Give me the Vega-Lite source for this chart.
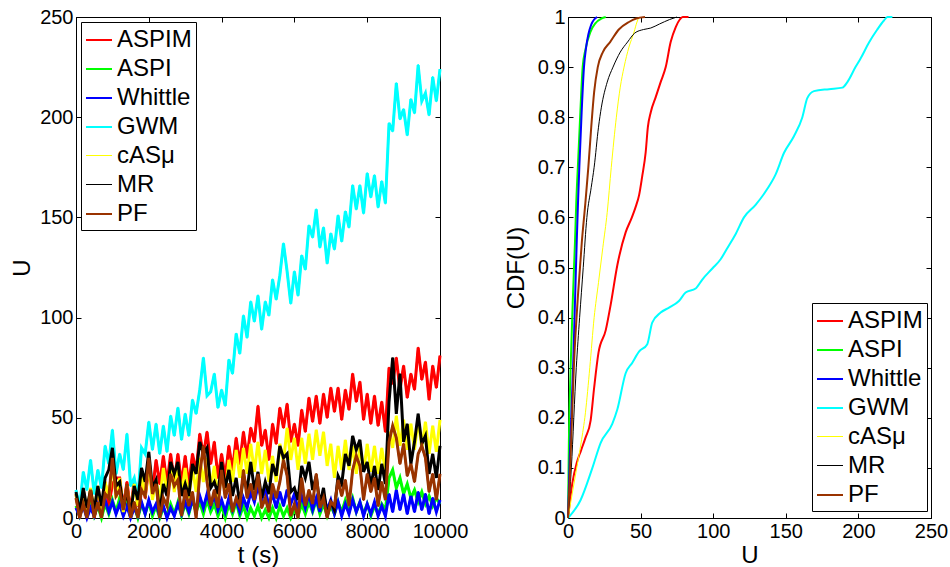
{
"$schema":"https://vega.github.io/schema/vega-lite/v6.json",
"padding":{"left":10,"top":6,"right":5,"bottom":5},
"bounds":"flush",
"spacing":128,
"config":{
 "font":"Liberation Sans",
 "view":{"stroke":"black","strokeWidth":1},
 "axis":{"grid":false,"domainColor":"black","tickColor":"black","labelColor":"black","titleColor":"black","labelFontSize":20,"titleFontSize":24,"titleFontWeight":"normal","tickSize":-5,"labelPadding":8,"labelFlush":false,"labelOverlap":false,"labelBound":false},
 "legend":{"orient":"none","strokeColor":"black","fillColor":"white","padding":4,"labelFontSize":24,"labelColor":"black","symbolSize":676,"symbolType":"stroke","rowPadding":3,"labelOffset":4,"cornerRadius":0,"labelLimit":300,"titleFontSize":0}
},
"resolve":{"scale":{"color":"independent","strokeWidth":"independent"},"legend":{"color":"independent","strokeWidth":"independent"}},
"datasets":{
"ts":[
{"s":"ASPIM","t":0,"u":12},{"s":"ASPIM","t":100,"u":0},{"s":"ASPIM","t":200,"u":14},{"s":"ASPIM","t":300,"u":1},{"s":"ASPIM","t":400,"u":14},{"s":"ASPIM","t":500,"u":0},{"s":"ASPIM","t":600,"u":13},{"s":"ASPIM","t":700,"u":1},{"s":"ASPIM","t":800,"u":18},{"s":"ASPIM","t":900,"u":6},
{"s":"ASPIM","t":1000,"u":17},{"s":"ASPIM","t":1100,"u":20},{"s":"ASPIM","t":1200,"u":20},{"s":"ASPIM","t":1300,"u":5},{"s":"ASPIM","t":1400,"u":18},{"s":"ASPIM","t":1500,"u":3},{"s":"ASPIM","t":1600,"u":19},{"s":"ASPIM","t":1700,"u":6},{"s":"ASPIM","t":1800,"u":22},{"s":"ASPIM","t":1900,"u":10},
{"s":"ASPIM","t":2000,"u":25},{"s":"ASPIM","t":2100,"u":13},{"s":"ASPIM","t":2200,"u":29},{"s":"ASPIM","t":2300,"u":17},{"s":"ASPIM","t":2400,"u":31},{"s":"ASPIM","t":2500,"u":17},{"s":"ASPIM","t":2600,"u":32},{"s":"ASPIM","t":2700,"u":18},{"s":"ASPIM","t":2800,"u":32},{"s":"ASPIM","t":2900,"u":17},
{"s":"ASPIM","t":3000,"u":31},{"s":"ASPIM","t":3100,"u":16},{"s":"ASPIM","t":3200,"u":32},{"s":"ASPIM","t":3300,"u":23},{"s":"ASPIM","t":3400,"u":42},{"s":"ASPIM","t":3500,"u":31},{"s":"ASPIM","t":3600,"u":43},{"s":"ASPIM","t":3700,"u":27},{"s":"ASPIM","t":3800,"u":38},{"s":"ASPIM","t":3900,"u":20},
{"s":"ASPIM","t":4000,"u":32},{"s":"ASPIM","t":4100,"u":20},{"s":"ASPIM","t":4200,"u":36},{"s":"ASPIM","t":4300,"u":24},{"s":"ASPIM","t":4400,"u":40},{"s":"ASPIM","t":4500,"u":27},{"s":"ASPIM","t":4600,"u":43},{"s":"ASPIM","t":4700,"u":30},{"s":"ASPIM","t":4800,"u":45},{"s":"ASPIM","t":4900,"u":38},
{"s":"ASPIM","t":5000,"u":56},{"s":"ASPIM","t":5100,"u":36},{"s":"ASPIM","t":5200,"u":44},{"s":"ASPIM","t":5300,"u":29},{"s":"ASPIM","t":5400,"u":47},{"s":"ASPIM","t":5500,"u":37},{"s":"ASPIM","t":5600,"u":55},{"s":"ASPIM","t":5700,"u":45},{"s":"ASPIM","t":5800,"u":57},{"s":"ASPIM","t":5900,"u":38},
{"s":"ASPIM","t":6000,"u":47},{"s":"ASPIM","t":6100,"u":36},{"s":"ASPIM","t":6200,"u":54},{"s":"ASPIM","t":6300,"u":43},{"s":"ASPIM","t":6400,"u":60},{"s":"ASPIM","t":6500,"u":48},{"s":"ASPIM","t":6600,"u":61},{"s":"ASPIM","t":6700,"u":47},{"s":"ASPIM","t":6800,"u":62},{"s":"ASPIM","t":6900,"u":50},
{"s":"ASPIM","t":7000,"u":65},{"s":"ASPIM","t":7100,"u":53},{"s":"ASPIM","t":7200,"u":65},{"s":"ASPIM","t":7300,"u":49},{"s":"ASPIM","t":7400,"u":64},{"s":"ASPIM","t":7500,"u":54},{"s":"ASPIM","t":7600,"u":72},{"s":"ASPIM","t":7700,"u":58},{"s":"ASPIM","t":7800,"u":68},{"s":"ASPIM","t":7900,"u":49},
{"s":"ASPIM","t":8000,"u":62},{"s":"ASPIM","t":8100,"u":47},{"s":"ASPIM","t":8200,"u":61},{"s":"ASPIM","t":8300,"u":46},{"s":"ASPIM","t":8400,"u":58},{"s":"ASPIM","t":8500,"u":43},{"s":"ASPIM","t":8600,"u":75},{"s":"ASPIM","t":8700,"u":67},{"s":"ASPIM","t":8800,"u":80},{"s":"ASPIM","t":8900,"u":64},
{"s":"ASPIM","t":9000,"u":76},{"s":"ASPIM","t":9100,"u":60},{"s":"ASPIM","t":9200,"u":72},{"s":"ASPIM","t":9300,"u":64},{"s":"ASPIM","t":9400,"u":85},{"s":"ASPIM","t":9500,"u":69},{"s":"ASPIM","t":9600,"u":78},{"s":"ASPIM","t":9700,"u":59},{"s":"ASPIM","t":9800,"u":76},{"s":"ASPIM","t":9900,"u":65},{"s":"ASPIM","t":10000,"u":81},
{"s":"ASPI","t":0,"u":6},{"s":"ASPI","t":100,"u":1},{"s":"ASPI","t":200,"u":7},{"s":"ASPI","t":300,"u":2},{"s":"ASPI","t":400,"u":8},{"s":"ASPI","t":500,"u":1},{"s":"ASPI","t":600,"u":6},{"s":"ASPI","t":700,"u":0},{"s":"ASPI","t":800,"u":7},{"s":"ASPI","t":900,"u":2},
{"s":"ASPI","t":1000,"u":9},{"s":"ASPI","t":1100,"u":3},{"s":"ASPI","t":1200,"u":10},{"s":"ASPI","t":1300,"u":4},{"s":"ASPI","t":1400,"u":8},{"s":"ASPI","t":1500,"u":1},{"s":"ASPI","t":1600,"u":6},{"s":"ASPI","t":1700,"u":0},{"s":"ASPI","t":1800,"u":7},{"s":"ASPI","t":1900,"u":2},
{"s":"ASPI","t":2000,"u":8},{"s":"ASPI","t":2100,"u":1},{"s":"ASPI","t":2200,"u":6},{"s":"ASPI","t":2300,"u":0},{"s":"ASPI","t":2400,"u":5},{"s":"ASPI","t":2500,"u":1},{"s":"ASPI","t":2600,"u":7},{"s":"ASPI","t":2700,"u":2},{"s":"ASPI","t":2800,"u":8},{"s":"ASPI","t":2900,"u":1},
{"s":"ASPI","t":3000,"u":7},{"s":"ASPI","t":3100,"u":2},{"s":"ASPI","t":3200,"u":9},{"s":"ASPI","t":3300,"u":3},{"s":"ASPI","t":3400,"u":8},{"s":"ASPI","t":3500,"u":2},{"s":"ASPI","t":3600,"u":9},{"s":"ASPI","t":3700,"u":3},{"s":"ASPI","t":3800,"u":7},{"s":"ASPI","t":3900,"u":1},
{"s":"ASPI","t":4000,"u":6},{"s":"ASPI","t":4100,"u":0},{"s":"ASPI","t":4200,"u":7},{"s":"ASPI","t":4300,"u":2},{"s":"ASPI","t":4400,"u":8},{"s":"ASPI","t":4500,"u":1},{"s":"ASPI","t":4600,"u":6},{"s":"ASPI","t":4700,"u":0},{"s":"ASPI","t":4800,"u":5},{"s":"ASPI","t":4900,"u":1},
{"s":"ASPI","t":5000,"u":6},{"s":"ASPI","t":5100,"u":0},{"s":"ASPI","t":5200,"u":4},{"s":"ASPI","t":5300,"u":0},{"s":"ASPI","t":5400,"u":5},{"s":"ASPI","t":5500,"u":0},{"s":"ASPI","t":5600,"u":6},{"s":"ASPI","t":5700,"u":1},{"s":"ASPI","t":5800,"u":5},{"s":"ASPI","t":5900,"u":0},
{"s":"ASPI","t":6000,"u":4},{"s":"ASPI","t":6100,"u":1},{"s":"ASPI","t":6200,"u":7},{"s":"ASPI","t":6300,"u":2},{"s":"ASPI","t":6400,"u":8},{"s":"ASPI","t":6500,"u":3},{"s":"ASPI","t":6600,"u":9},{"s":"ASPI","t":6700,"u":2},{"s":"ASPI","t":6800,"u":7},{"s":"ASPI","t":6900,"u":1},
{"s":"ASPI","t":7000,"u":6},{"s":"ASPI","t":7100,"u":2},{"s":"ASPI","t":7200,"u":8},{"s":"ASPI","t":7300,"u":3},{"s":"ASPI","t":7400,"u":9},{"s":"ASPI","t":7500,"u":4},{"s":"ASPI","t":7600,"u":10},{"s":"ASPI","t":7700,"u":3},{"s":"ASPI","t":7800,"u":8},{"s":"ASPI","t":7900,"u":2},
{"s":"ASPI","t":8000,"u":7},{"s":"ASPI","t":8100,"u":1},{"s":"ASPI","t":8200,"u":6},{"s":"ASPI","t":8300,"u":2},{"s":"ASPI","t":8400,"u":7},{"s":"ASPI","t":8500,"u":4},{"s":"ASPI","t":8600,"u":20},{"s":"ASPI","t":8700,"u":24},{"s":"ASPI","t":8800,"u":15},{"s":"ASPI","t":8900,"u":20},
{"s":"ASPI","t":9000,"u":12},{"s":"ASPI","t":9100,"u":17},{"s":"ASPI","t":9200,"u":10},{"s":"ASPI","t":9300,"u":14},{"s":"ASPI","t":9400,"u":8},{"s":"ASPI","t":9500,"u":13},{"s":"ASPI","t":9600,"u":7},{"s":"ASPI","t":9700,"u":11},{"s":"ASPI","t":9800,"u":6},{"s":"ASPI","t":9900,"u":10},{"s":"ASPI","t":10000,"u":7},
{"s":"Whittle","t":0,"u":5},{"s":"Whittle","t":100,"u":1},{"s":"Whittle","t":200,"u":6},{"s":"Whittle","t":300,"u":0},{"s":"Whittle","t":400,"u":5},{"s":"Whittle","t":500,"u":1},{"s":"Whittle","t":600,"u":7},{"s":"Whittle","t":700,"u":2},{"s":"Whittle","t":800,"u":9},{"s":"Whittle","t":900,"u":3},
{"s":"Whittle","t":1000,"u":8},{"s":"Whittle","t":1100,"u":2},{"s":"Whittle","t":1200,"u":7},{"s":"Whittle","t":1300,"u":1},{"s":"Whittle","t":1400,"u":6},{"s":"Whittle","t":1500,"u":0},{"s":"Whittle","t":1600,"u":5},{"s":"Whittle","t":1700,"u":1},{"s":"Whittle","t":1800,"u":8},{"s":"Whittle","t":1900,"u":2},
{"s":"Whittle","t":2000,"u":9},{"s":"Whittle","t":2100,"u":3},{"s":"Whittle","t":2200,"u":7},{"s":"Whittle","t":2300,"u":1},{"s":"Whittle","t":2400,"u":6},{"s":"Whittle","t":2500,"u":0},{"s":"Whittle","t":2600,"u":5},{"s":"Whittle","t":2700,"u":1},{"s":"Whittle","t":2800,"u":7},{"s":"Whittle","t":2900,"u":2},
{"s":"Whittle","t":3000,"u":8},{"s":"Whittle","t":3100,"u":3},{"s":"Whittle","t":3200,"u":9},{"s":"Whittle","t":3300,"u":4},{"s":"Whittle","t":3400,"u":11},{"s":"Whittle","t":3500,"u":5},{"s":"Whittle","t":3600,"u":12},{"s":"Whittle","t":3700,"u":6},{"s":"Whittle","t":3800,"u":11},{"s":"Whittle","t":3900,"u":4},
{"s":"Whittle","t":4000,"u":9},{"s":"Whittle","t":4100,"u":3},{"s":"Whittle","t":4200,"u":10},{"s":"Whittle","t":4300,"u":4},{"s":"Whittle","t":4400,"u":9},{"s":"Whittle","t":4500,"u":3},{"s":"Whittle","t":4600,"u":10},{"s":"Whittle","t":4700,"u":5},{"s":"Whittle","t":4800,"u":13},{"s":"Whittle","t":4900,"u":8},
{"s":"Whittle","t":5000,"u":16},{"s":"Whittle","t":5100,"u":9},{"s":"Whittle","t":5200,"u":14},{"s":"Whittle","t":5300,"u":6},{"s":"Whittle","t":5400,"u":12},{"s":"Whittle","t":5500,"u":5},{"s":"Whittle","t":5600,"u":13},{"s":"Whittle","t":5700,"u":6},{"s":"Whittle","t":5800,"u":14},{"s":"Whittle","t":5900,"u":7},
{"s":"Whittle","t":6000,"u":12},{"s":"Whittle","t":6100,"u":4},{"s":"Whittle","t":6200,"u":11},{"s":"Whittle","t":6300,"u":5},{"s":"Whittle","t":6400,"u":12},{"s":"Whittle","t":6500,"u":4},{"s":"Whittle","t":6600,"u":10},{"s":"Whittle","t":6700,"u":3},{"s":"Whittle","t":6800,"u":12},{"s":"Whittle","t":6900,"u":4},
{"s":"Whittle","t":7000,"u":9},{"s":"Whittle","t":7100,"u":2},{"s":"Whittle","t":7200,"u":8},{"s":"Whittle","t":7300,"u":1},{"s":"Whittle","t":7400,"u":7},{"s":"Whittle","t":7500,"u":2},{"s":"Whittle","t":7600,"u":9},{"s":"Whittle","t":7700,"u":3},{"s":"Whittle","t":7800,"u":8},{"s":"Whittle","t":7900,"u":1},
{"s":"Whittle","t":8000,"u":7},{"s":"Whittle","t":8100,"u":2},{"s":"Whittle","t":8200,"u":8},{"s":"Whittle","t":8300,"u":1},{"s":"Whittle","t":8400,"u":6},{"s":"Whittle","t":8500,"u":1},{"s":"Whittle","t":8600,"u":12},{"s":"Whittle","t":8700,"u":3},{"s":"Whittle","t":8800,"u":14},{"s":"Whittle","t":8900,"u":4},
{"s":"Whittle","t":9000,"u":12},{"s":"Whittle","t":9100,"u":2},{"s":"Whittle","t":9200,"u":11},{"s":"Whittle","t":9300,"u":3},{"s":"Whittle","t":9400,"u":13},{"s":"Whittle","t":9500,"u":4},{"s":"Whittle","t":9600,"u":12},{"s":"Whittle","t":9700,"u":2},{"s":"Whittle","t":9800,"u":10},{"s":"Whittle","t":9900,"u":3},{"s":"Whittle","t":10000,"u":9},
{"s":"GWM","t":0,"u":14},{"s":"GWM","t":100,"u":5},{"s":"GWM","t":200,"u":23},{"s":"GWM","t":300,"u":14},{"s":"GWM","t":400,"u":29},{"s":"GWM","t":500,"u":12},{"s":"GWM","t":600,"u":24},{"s":"GWM","t":700,"u":15},{"s":"GWM","t":800,"u":36},{"s":"GWM","t":900,"u":27},
{"s":"GWM","t":1000,"u":44},{"s":"GWM","t":1100,"u":22},{"s":"GWM","t":1200,"u":32},{"s":"GWM","t":1300,"u":24},{"s":"GWM","t":1400,"u":42},{"s":"GWM","t":1500,"u":16},{"s":"GWM","t":1600,"u":20},{"s":"GWM","t":1700,"u":10},{"s":"GWM","t":1800,"u":35},{"s":"GWM","t":1900,"u":32},
{"s":"GWM","t":2000,"u":48},{"s":"GWM","t":2100,"u":34},{"s":"GWM","t":2200,"u":47},{"s":"GWM","t":2300,"u":32},{"s":"GWM","t":2400,"u":46},{"s":"GWM","t":2500,"u":33},{"s":"GWM","t":2600,"u":51},{"s":"GWM","t":2700,"u":41},{"s":"GWM","t":2800,"u":55},{"s":"GWM","t":2900,"u":39},
{"s":"GWM","t":3000,"u":52},{"s":"GWM","t":3100,"u":41},{"s":"GWM","t":3200,"u":59},{"s":"GWM","t":3300,"u":52},{"s":"GWM","t":3400,"u":64},{"s":"GWM","t":3500,"u":80},{"s":"GWM","t":3600,"u":61},{"s":"GWM","t":3700,"u":63},{"s":"GWM","t":3800,"u":72},{"s":"GWM","t":3900,"u":55},
{"s":"GWM","t":4000,"u":64},{"s":"GWM","t":4100,"u":56},{"s":"GWM","t":4200,"u":79},{"s":"GWM","t":4300,"u":72},{"s":"GWM","t":4400,"u":92},{"s":"GWM","t":4500,"u":82},{"s":"GWM","t":4600,"u":101},{"s":"GWM","t":4700,"u":90},{"s":"GWM","t":4800,"u":108},{"s":"GWM","t":4900,"u":98},
{"s":"GWM","t":5000,"u":111},{"s":"GWM","t":5100,"u":94},{"s":"GWM","t":5200,"u":108},{"s":"GWM","t":5300,"u":101},{"s":"GWM","t":5400,"u":119},{"s":"GWM","t":5500,"u":109},{"s":"GWM","t":5600,"u":121},{"s":"GWM","t":5700,"u":137},{"s":"GWM","t":5800,"u":123},{"s":"GWM","t":5900,"u":107},
{"s":"GWM","t":6000,"u":123},{"s":"GWM","t":6100,"u":111},{"s":"GWM","t":6200,"u":131},{"s":"GWM","t":6300,"u":124},{"s":"GWM","t":6400,"u":146},{"s":"GWM","t":6500,"u":140},{"s":"GWM","t":6600,"u":154},{"s":"GWM","t":6700,"u":135},{"s":"GWM","t":6800,"u":145},{"s":"GWM","t":6900,"u":127},
{"s":"GWM","t":7000,"u":142},{"s":"GWM","t":7100,"u":134},{"s":"GWM","t":7200,"u":151},{"s":"GWM","t":7300,"u":138},{"s":"GWM","t":7400,"u":153},{"s":"GWM","t":7500,"u":145},{"s":"GWM","t":7600,"u":166},{"s":"GWM","t":7700,"u":154},{"s":"GWM","t":7800,"u":166},{"s":"GWM","t":7900,"u":152},
{"s":"GWM","t":8000,"u":172},{"s":"GWM","t":8100,"u":160},{"s":"GWM","t":8200,"u":171},{"s":"GWM","t":8300,"u":155},{"s":"GWM","t":8400,"u":168},{"s":"GWM","t":8500,"u":157},{"s":"GWM","t":8600,"u":197},{"s":"GWM","t":8700,"u":193},{"s":"GWM","t":8800,"u":217},{"s":"GWM","t":8900,"u":199},
{"s":"GWM","t":9000,"u":204},{"s":"GWM","t":9100,"u":191},{"s":"GWM","t":9200,"u":209},{"s":"GWM","t":9300,"u":202},{"s":"GWM","t":9400,"u":226},{"s":"GWM","t":9500,"u":208},{"s":"GWM","t":9600,"u":212},{"s":"GWM","t":9700,"u":201},{"s":"GWM","t":9800,"u":220},{"s":"GWM","t":9900,"u":208},{"s":"GWM","t":10000,"u":224},
{"s":"cASμ","t":0,"u":12},{"s":"cASμ","t":100,"u":1},{"s":"cASμ","t":200,"u":14},{"s":"cASμ","t":300,"u":2},{"s":"cASμ","t":400,"u":15},{"s":"cASμ","t":500,"u":3},{"s":"cASμ","t":600,"u":16},{"s":"cASμ","t":700,"u":4},{"s":"cASμ","t":800,"u":18},{"s":"cASμ","t":900,"u":10},
{"s":"cASμ","t":1000,"u":27},{"s":"cASμ","t":1100,"u":10},{"s":"cASμ","t":1200,"u":20},{"s":"cASμ","t":1300,"u":3},{"s":"cASμ","t":1400,"u":16},{"s":"cASμ","t":1500,"u":1},{"s":"cASμ","t":1600,"u":17},{"s":"cASμ","t":1700,"u":6},{"s":"cASμ","t":1800,"u":22},{"s":"cASμ","t":1900,"u":11},
{"s":"cASμ","t":2000,"u":27},{"s":"cASμ","t":2100,"u":9},{"s":"cASμ","t":2200,"u":19},{"s":"cASμ","t":2300,"u":8},{"s":"cASμ","t":2400,"u":25},{"s":"cASμ","t":2500,"u":12},{"s":"cASμ","t":2600,"u":26},{"s":"cASμ","t":2700,"u":13},{"s":"cASμ","t":2800,"u":26},{"s":"cASμ","t":2900,"u":12},
{"s":"cASμ","t":3000,"u":25},{"s":"cASμ","t":3100,"u":10},{"s":"cASμ","t":3200,"u":25},{"s":"cASμ","t":3300,"u":13},{"s":"cASμ","t":3400,"u":30},{"s":"cASμ","t":3500,"u":18},{"s":"cASμ","t":3600,"u":30},{"s":"cASμ","t":3700,"u":15},{"s":"cASμ","t":3800,"u":26},{"s":"cASμ","t":3900,"u":10},
{"s":"cASμ","t":4000,"u":23},{"s":"cASμ","t":4100,"u":12},{"s":"cASμ","t":4200,"u":29},{"s":"cASμ","t":4300,"u":18},{"s":"cASμ","t":4400,"u":34},{"s":"cASμ","t":4500,"u":20},{"s":"cASμ","t":4600,"u":35},{"s":"cASμ","t":4700,"u":22},{"s":"cASμ","t":4800,"u":37},{"s":"cASμ","t":4900,"u":23},
{"s":"cASμ","t":5000,"u":38},{"s":"cASμ","t":5100,"u":22},{"s":"cASμ","t":5200,"u":34},{"s":"cASμ","t":5300,"u":18},{"s":"cASμ","t":5400,"u":31},{"s":"cASμ","t":5500,"u":18},{"s":"cASμ","t":5600,"u":37},{"s":"cASμ","t":5700,"u":28},{"s":"cASμ","t":5800,"u":45},{"s":"cASμ","t":5900,"u":29},
{"s":"cASμ","t":6000,"u":40},{"s":"cASμ","t":6100,"u":24},{"s":"cASμ","t":6200,"u":40},{"s":"cASμ","t":6300,"u":27},{"s":"cASμ","t":6400,"u":42},{"s":"cASμ","t":6500,"u":29},{"s":"cASμ","t":6600,"u":44},{"s":"cASμ","t":6700,"u":31},{"s":"cASμ","t":6800,"u":43},{"s":"cASμ","t":6900,"u":26},
{"s":"cASμ","t":7000,"u":37},{"s":"cASμ","t":7100,"u":20},{"s":"cASμ","t":7200,"u":36},{"s":"cASμ","t":7300,"u":24},{"s":"cASμ","t":7400,"u":39},{"s":"cASμ","t":7500,"u":24},{"s":"cASμ","t":7600,"u":36},{"s":"cASμ","t":7700,"u":22},{"s":"cASμ","t":7800,"u":36},{"s":"cASμ","t":7900,"u":23},
{"s":"cASμ","t":8000,"u":37},{"s":"cASμ","t":8100,"u":23},{"s":"cASμ","t":8200,"u":36},{"s":"cASμ","t":8300,"u":22},{"s":"cASμ","t":8400,"u":35},{"s":"cASμ","t":8500,"u":23},{"s":"cASμ","t":8600,"u":43},{"s":"cASμ","t":8700,"u":35},{"s":"cASμ","t":8800,"u":51},{"s":"cASμ","t":8900,"u":36},
{"s":"cASμ","t":9000,"u":49},{"s":"cASμ","t":9100,"u":34},{"s":"cASμ","t":9200,"u":47},{"s":"cASμ","t":9300,"u":34},{"s":"cASμ","t":9400,"u":49},{"s":"cASμ","t":9500,"u":35},{"s":"cASμ","t":9600,"u":48},{"s":"cASμ","t":9700,"u":32},{"s":"cASμ","t":9800,"u":46},{"s":"cASμ","t":9900,"u":33},{"s":"cASμ","t":10000,"u":49},
{"s":"MR","t":0,"u":13},{"s":"MR","t":100,"u":3},{"s":"MR","t":200,"u":15},{"s":"MR","t":300,"u":5},{"s":"MR","t":400,"u":14},{"s":"MR","t":500,"u":4},{"s":"MR","t":600,"u":16},{"s":"MR","t":700,"u":6},{"s":"MR","t":800,"u":20},{"s":"MR","t":900,"u":24},
{"s":"MR","t":1000,"u":35},{"s":"MR","t":1100,"u":16},{"s":"MR","t":1200,"u":18},{"s":"MR","t":1300,"u":5},{"s":"MR","t":1400,"u":13},{"s":"MR","t":1500,"u":2},{"s":"MR","t":1600,"u":16},{"s":"MR","t":1700,"u":9},{"s":"MR","t":1800,"u":25},{"s":"MR","t":1900,"u":18},
{"s":"MR","t":2000,"u":33},{"s":"MR","t":2100,"u":15},{"s":"MR","t":2200,"u":19},{"s":"MR","t":2300,"u":2},{"s":"MR","t":2400,"u":17},{"s":"MR","t":2500,"u":11},{"s":"MR","t":2600,"u":28},{"s":"MR","t":2700,"u":22},{"s":"MR","t":2800,"u":28},{"s":"MR","t":2900,"u":11},
{"s":"MR","t":3000,"u":17},{"s":"MR","t":3100,"u":11},{"s":"MR","t":3200,"u":27},{"s":"MR","t":3300,"u":22},{"s":"MR","t":3400,"u":38},{"s":"MR","t":3500,"u":32},{"s":"MR","t":3600,"u":35},{"s":"MR","t":3700,"u":15},{"s":"MR","t":3800,"u":18},{"s":"MR","t":3900,"u":12},
{"s":"MR","t":4000,"u":28},{"s":"MR","t":4100,"u":15},{"s":"MR","t":4200,"u":24},{"s":"MR","t":4300,"u":11},{"s":"MR","t":4400,"u":20},{"s":"MR","t":4500,"u":7},{"s":"MR","t":4600,"u":21},{"s":"MR","t":4700,"u":14},{"s":"MR","t":4800,"u":28},{"s":"MR","t":4900,"u":14},
{"s":"MR","t":5000,"u":23},{"s":"MR","t":5100,"u":10},{"s":"MR","t":5200,"u":18},{"s":"MR","t":5300,"u":12},{"s":"MR","t":5400,"u":27},{"s":"MR","t":5500,"u":21},{"s":"MR","t":5600,"u":36},{"s":"MR","t":5700,"u":30},{"s":"MR","t":5800,"u":32},{"s":"MR","t":5900,"u":13},
{"s":"MR","t":6000,"u":15},{"s":"MR","t":6100,"u":9},{"s":"MR","t":6200,"u":26},{"s":"MR","t":6300,"u":20},{"s":"MR","t":6400,"u":28},{"s":"MR","t":6500,"u":14},{"s":"MR","t":6600,"u":21},{"s":"MR","t":6700,"u":7},{"s":"MR","t":6800,"u":15},{"s":"MR","t":6900,"u":1},
{"s":"MR","t":7000,"u":8},{"s":"MR","t":7100,"u":4},{"s":"MR","t":7200,"u":21},{"s":"MR","t":7300,"u":17},{"s":"MR","t":7400,"u":32},{"s":"MR","t":7500,"u":26},{"s":"MR","t":7600,"u":41},{"s":"MR","t":7700,"u":34},{"s":"MR","t":7800,"u":39},{"s":"MR","t":7900,"u":23},
{"s":"MR","t":8000,"u":28},{"s":"MR","t":8100,"u":16},{"s":"MR","t":8200,"u":26},{"s":"MR","t":8300,"u":14},{"s":"MR","t":8400,"u":27},{"s":"MR","t":8500,"u":17},{"s":"MR","t":8600,"u":58},{"s":"MR","t":8700,"u":80},{"s":"MR","t":8800,"u":52},{"s":"MR","t":8900,"u":72},
{"s":"MR","t":9000,"u":38},{"s":"MR","t":9100,"u":47},{"s":"MR","t":9200,"u":27},{"s":"MR","t":9300,"u":38},{"s":"MR","t":9400,"u":52},{"s":"MR","t":9500,"u":37},{"s":"MR","t":9600,"u":41},{"s":"MR","t":9700,"u":22},{"s":"MR","t":9800,"u":32},{"s":"MR","t":9900,"u":20},{"s":"MR","t":10000,"u":36},
{"s":"PF","t":0,"u":10},{"s":"PF","t":100,"u":0},{"s":"PF","t":200,"u":7},{"s":"PF","t":300,"u":0},{"s":"PF","t":400,"u":14},{"s":"PF","t":500,"u":0},{"s":"PF","t":600,"u":8},{"s":"PF","t":700,"u":0},{"s":"PF","t":800,"u":12},{"s":"PF","t":900,"u":10},
{"s":"PF","t":1000,"u":30},{"s":"PF","t":1100,"u":11},{"s":"PF","t":1200,"u":14},{"s":"PF","t":1300,"u":4},{"s":"PF","t":1400,"u":17},{"s":"PF","t":1500,"u":0},{"s":"PF","t":1600,"u":8},{"s":"PF","t":1700,"u":0},{"s":"PF","t":1800,"u":14},{"s":"PF","t":1900,"u":11},
{"s":"PF","t":2000,"u":30},{"s":"PF","t":2100,"u":12},{"s":"PF","t":2200,"u":17},{"s":"PF","t":2300,"u":0},{"s":"PF","t":2400,"u":10},{"s":"PF","t":2500,"u":6},{"s":"PF","t":2600,"u":22},{"s":"PF","t":2700,"u":16},{"s":"PF","t":2800,"u":19},{"s":"PF","t":2900,"u":1},
{"s":"PF","t":3000,"u":14},{"s":"PF","t":3100,"u":6},{"s":"PF","t":3200,"u":13},{"s":"PF","t":3300,"u":0},{"s":"PF","t":3400,"u":22},{"s":"PF","t":3500,"u":36},{"s":"PF","t":3600,"u":18},{"s":"PF","t":3700,"u":6},{"s":"PF","t":3800,"u":14},{"s":"PF","t":3900,"u":5},
{"s":"PF","t":4000,"u":24},{"s":"PF","t":4100,"u":10},{"s":"PF","t":4200,"u":17},{"s":"PF","t":4300,"u":3},{"s":"PF","t":4400,"u":10},{"s":"PF","t":4500,"u":6},{"s":"PF","t":4600,"u":24},{"s":"PF","t":4700,"u":10},{"s":"PF","t":4800,"u":17},{"s":"PF","t":4900,"u":9},
{"s":"PF","t":5000,"u":22},{"s":"PF","t":5100,"u":5},{"s":"PF","t":5200,"u":10},{"s":"PF","t":5300,"u":3},{"s":"PF","t":5400,"u":17},{"s":"PF","t":5500,"u":10},{"s":"PF","t":5600,"u":18},{"s":"PF","t":5700,"u":29},{"s":"PF","t":5800,"u":21},{"s":"PF","t":5900,"u":1},
{"s":"PF","t":6000,"u":7},{"s":"PF","t":6100,"u":0},{"s":"PF","t":6200,"u":20},{"s":"PF","t":6300,"u":6},{"s":"PF","t":6400,"u":14},{"s":"PF","t":6500,"u":7},{"s":"PF","t":6600,"u":22},{"s":"PF","t":6700,"u":5},{"s":"PF","t":6800,"u":10},{"s":"PF","t":6900,"u":0},
{"s":"PF","t":7000,"u":8},{"s":"PF","t":7100,"u":6},{"s":"PF","t":7200,"u":19},{"s":"PF","t":7300,"u":11},{"s":"PF","t":7400,"u":19},{"s":"PF","t":7500,"u":6},{"s":"PF","t":7600,"u":24},{"s":"PF","t":7700,"u":31},{"s":"PF","t":7800,"u":26},{"s":"PF","t":7900,"u":9},
{"s":"PF","t":8000,"u":22},{"s":"PF","t":8100,"u":13},{"s":"PF","t":8200,"u":20},{"s":"PF","t":8300,"u":6},{"s":"PF","t":8400,"u":18},{"s":"PF","t":8500,"u":9},{"s":"PF","t":8600,"u":38},{"s":"PF","t":8700,"u":46},{"s":"PF","t":8800,"u":40},{"s":"PF","t":8900,"u":27},
{"s":"PF","t":9000,"u":37},{"s":"PF","t":9100,"u":21},{"s":"PF","t":9200,"u":27},{"s":"PF","t":9300,"u":18},{"s":"PF","t":9400,"u":32},{"s":"PF","t":9500,"u":36},{"s":"PF","t":9600,"u":30},{"s":"PF","t":9700,"u":13},{"s":"PF","t":9800,"u":22},{"s":"PF","t":9900,"u":9},{"s":"PF","t":10000,"u":22}
],
"cdf":[
{"s":"ASPIM","x":0,"p":0},{"s":"ASPIM","x":3,"p":0.07},{"s":"ASPIM","x":6,"p":0.11},{"s":"ASPIM","x":9,"p":0.135},{"s":"ASPIM","x":12,"p":0.16},{"s":"ASPIM","x":15.6,"p":0.195},{"s":"ASPIM","x":18,"p":0.26},{"s":"ASPIM","x":21,"p":0.33},{"s":"ASPIM","x":26,"p":0.375},{"s":"ASPIM","x":29.4,"p":0.426},{"s":"ASPIM","x":34,"p":0.505},{"s":"ASPIM","x":39.7,"p":0.57},{"s":"ASPIM","x":44,"p":0.6},{"s":"ASPIM","x":46.6,"p":0.621},{"s":"ASPIM","x":49,"p":0.645},{"s":"ASPIM","x":51,"p":0.68},{"s":"ASPIM","x":53.5,"p":0.73},{"s":"ASPIM","x":55,"p":0.78},{"s":"ASPIM","x":57,"p":0.81},{"s":"ASPIM","x":60.4,"p":0.84},{"s":"ASPIM","x":63.8,"p":0.87},{"s":"ASPIM","x":67.3,"p":0.9},{"s":"ASPIM","x":70.7,"p":0.95},{"s":"ASPIM","x":74.2,"p":0.98},{"s":"ASPIM","x":77,"p":0.995},{"s":"ASPIM","x":79,"p":1},{"s":"ASPIM","x":83,"p":1},
{"s":"ASPI","x":0,"p":0},{"s":"ASPI","x":0.6,"p":0.15},{"s":"ASPI","x":1.8,"p":0.3},{"s":"ASPI","x":3.5,"p":0.45},{"s":"ASPI","x":4.8,"p":0.55},{"s":"ASPI","x":5.7,"p":0.63},{"s":"ASPI","x":7.1,"p":0.72},{"s":"ASPI","x":8.5,"p":0.81},{"s":"ASPI","x":10.1,"p":0.9},{"s":"ASPI","x":12,"p":0.935},{"s":"ASPI","x":15.4,"p":0.97},{"s":"ASPI","x":19,"p":0.988},{"s":"ASPI","x":23,"p":0.997},{"s":"ASPI","x":26,"p":1},
{"s":"Whittle","x":0,"p":0},{"s":"Whittle","x":1.2,"p":0.12},{"s":"Whittle","x":3.5,"p":0.3},{"s":"Whittle","x":5,"p":0.45},{"s":"Whittle","x":6,"p":0.55},{"s":"Whittle","x":6.9,"p":0.63},{"s":"Whittle","x":7.8,"p":0.7},{"s":"Whittle","x":9.4,"p":0.81},{"s":"Whittle","x":11,"p":0.9},{"s":"Whittle","x":12.5,"p":0.94},{"s":"Whittle","x":14,"p":0.965},{"s":"Whittle","x":16,"p":0.985},{"s":"Whittle","x":18,"p":0.995},{"s":"Whittle","x":20,"p":1},
{"s":"GWM","x":0,"p":0},{"s":"GWM","x":8.7,"p":0.036},{"s":"GWM","x":16.8,"p":0.1},{"s":"GWM","x":22.5,"p":0.15},{"s":"GWM","x":30.5,"p":0.188},{"s":"GWM","x":34,"p":0.217},{"s":"GWM","x":39.7,"p":0.289},{"s":"GWM","x":44.3,"p":0.31},{"s":"GWM","x":48.9,"p":0.332},{"s":"GWM","x":54.6,"p":0.347},{"s":"GWM","x":58,"p":0.39},{"s":"GWM","x":63.8,"p":0.41},{"s":"GWM","x":69.6,"p":0.42},{"s":"GWM","x":76.4,"p":0.433},{"s":"GWM","x":81,"p":0.45},{"s":"GWM","x":87.9,"p":0.458},{"s":"GWM","x":92.5,"p":0.476},{"s":"GWM","x":99.4,"p":0.498},{"s":"GWM","x":105,"p":0.516},{"s":"GWM","x":110,"p":0.54},{"s":"GWM","x":115.5,"p":0.567},{"s":"GWM","x":121.2,"p":0.6},{"s":"GWM","x":129.2,"p":0.625},{"s":"GWM","x":137.3,"p":0.657},{"s":"GWM","x":143,"p":0.686},{"s":"GWM","x":148.8,"p":0.729},{"s":"GWM","x":155.6,"p":0.762},{"s":"GWM","x":161.4,"p":0.8},{"s":"GWM","x":164.8,"p":0.838},{"s":"GWM","x":169.4,"p":0.852},{"s":"GWM","x":179.8,"p":0.856},{"s":"GWM","x":189,"p":0.859},{"s":"GWM","x":192.4,"p":0.87},{"s":"GWM","x":198,"p":0.9},{"s":"GWM","x":201.5,"p":0.917},{"s":"GWM","x":207.3,"p":0.949},{"s":"GWM","x":213,"p":0.975},{"s":"GWM","x":217.6,"p":0.993},{"s":"GWM","x":220,"p":1},{"s":"GWM","x":223.4,"p":1},
{"s":"cASμ","x":0,"p":0},{"s":"cASμ","x":3,"p":0.05},{"s":"cASμ","x":6,"p":0.1},{"s":"cASμ","x":9,"p":0.15},{"s":"cASμ","x":12,"p":0.21},{"s":"cASμ","x":15,"p":0.3},{"s":"cASμ","x":18,"p":0.4},{"s":"cASμ","x":21,"p":0.47},{"s":"cASμ","x":24,"p":0.54},{"s":"cASμ","x":27,"p":0.61},{"s":"cASμ","x":29.8,"p":0.7},{"s":"cASμ","x":33.3,"p":0.8},{"s":"cASμ","x":36,"p":0.86},{"s":"cASμ","x":38.6,"p":0.9},{"s":"cASμ","x":42,"p":0.94},{"s":"cASμ","x":45.5,"p":0.97},{"s":"cASμ","x":47.5,"p":0.99},{"s":"cASμ","x":49,"p":1},
{"s":"MR","x":0,"p":0},{"s":"MR","x":2.3,"p":0.1},{"s":"MR","x":5.7,"p":0.3},{"s":"MR","x":8,"p":0.4},{"s":"MR","x":10.5,"p":0.5},{"s":"MR","x":13,"p":0.6},{"s":"MR","x":16,"p":0.66},{"s":"MR","x":18,"p":0.7},{"s":"MR","x":21,"p":0.78},{"s":"MR","x":23,"p":0.82},{"s":"MR","x":27,"p":0.87},{"s":"MR","x":31,"p":0.9},{"s":"MR","x":36,"p":0.93},{"s":"MR","x":41,"p":0.95},{"s":"MR","x":46,"p":0.968},{"s":"MR","x":52,"p":0.975},{"s":"MR","x":57,"p":0.978},{"s":"MR","x":63,"p":0.986},{"s":"MR","x":70,"p":0.995},{"s":"MR","x":75,"p":1},
{"s":"PF","x":0,"p":0},{"s":"PF","x":1.5,"p":0.1},{"s":"PF","x":4,"p":0.3},{"s":"PF","x":7,"p":0.45},{"s":"PF","x":9.5,"p":0.55},{"s":"PF","x":12,"p":0.63},{"s":"PF","x":14,"p":0.7},{"s":"PF","x":16,"p":0.78},{"s":"PF","x":18,"p":0.85},{"s":"PF","x":20.5,"p":0.9},{"s":"PF","x":24,"p":0.93},{"s":"PF","x":29,"p":0.95},{"s":"PF","x":35,"p":0.975},{"s":"PF","x":42,"p":0.99},{"s":"PF","x":47,"p":0.997},{"s":"PF","x":53,"p":1}
]
},
"hconcat":[
{
 "width":364,"height":501,
 "data":{"name":"ts"},
 "layer":[
  {"mark":{"type":"line","strokeJoin":"round"},
   "encoding":{
    "x":{"field":"t","type":"quantitative","scale":{"domain":[0,10000],"nice":false,"zero":false},"axis":{"orient":"top","values":[0,2000,4000,6000,8000,10000],"labels":false,"domain":false,"title":null}},
    "y":{"field":"u","type":"quantitative","scale":{"domain":[0,250],"nice":false},"axis":{"orient":"right","values":[0,50,100,150,200,250],"labels":false,"domain":false,"title":null}},
    "color":{"field":"s","type":"nominal","scale":{"domain":["ASPIM","ASPI","Whittle","GWM","cASμ","MR","PF"],"range":["#ff0000","#00ff00","#0000ff","#00ffff","#ffff00","#000000","#993300"]},"legend":{"title":null,"legendX":5,"legendY":5}},
    "strokeWidth":{"field":"s","type":"nominal","scale":{"type":"ordinal","domain":["ASPIM","ASPI","Whittle","GWM","cASμ","MR","PF"],"range":[2,2,2,2,1,1,2]},"legend":{"title":null,"legendX":5,"legendY":5}}
   }},
  {"mark":{"type":"line","strokeJoin":"miter","strokeWidth":3},
   "encoding":{
    "x":{"field":"t","type":"quantitative","scale":{"domain":[0,10000],"nice":false,"zero":false},"axis":{"orient":"bottom","values":[0,2000,4000,6000,8000,10000],"format":"d","title":"t (s)","titlePadding":2}},
    "y":{"field":"u","type":"quantitative","scale":{"domain":[0,250],"nice":false},"axis":{"orient":"left","values":[0,50,100,150,200,250],"title":"U","titlePadding":5}},
    "color":{"field":"s","type":"nominal","scale":{"domain":["ASPIM","ASPI","Whittle","GWM","cASμ","MR","PF"],"range":["#ff0000","#00ff00","#0000ff","#00ffff","#ffff00","#000000","#993300"]},"legend":null}
   }}
 ],
 "resolve":{"axis":{"x":"independent","y":"independent"}}
},
{
 "width":363,"height":501,
 "data":{"name":"cdf"},
 "layer":[
  {"mark":{"type":"line","interpolate":"monotone"},
   "encoding":{
    "x":{"field":"x","type":"quantitative","scale":{"domain":[0,250],"nice":false},"axis":{"orient":"bottom","values":[0,50,100,150,200,250],"title":"U","titlePadding":2}},
    "y":{"field":"p","type":"quantitative","scale":{"domain":[0,1],"nice":false},"axis":{"orient":"left","values":[0,0.1,0.2,0.3,0.4,0.5,0.6,0.7,0.8,0.9,1],"format":"~g","title":"CDF(U)","titlePadding":9}},
    "color":{"field":"s","type":"nominal","scale":{"domain":["ASPIM","ASPI","Whittle","GWM","cASμ","MR","PF"],"range":["#ff0000","#00ff00","#0000ff","#00ffff","#ffff00","#000000","#993300"]},"legend":{"title":null,"legendX":244,"legendY":286}},
    "strokeWidth":{"field":"s","type":"nominal","scale":{"type":"ordinal","domain":["ASPIM","ASPI","Whittle","GWM","cASμ","MR","PF"],"range":[2,2,2,2,1,1,2]},"legend":{"title":null,"legendX":244,"legendY":286}}
   }},
  {"mark":{"type":"line","opacity":0},
   "encoding":{
    "x":{"field":"x","type":"quantitative","scale":{"domain":[0,250],"nice":false},"axis":{"orient":"top","values":[0,50,100,150,200,250],"labels":false,"domain":false,"title":null}},
    "y":{"field":"p","type":"quantitative","scale":{"domain":[0,1],"nice":false},"axis":{"orient":"right","values":[0,0.1,0.2,0.3,0.4,0.5,0.6,0.7,0.8,0.9,1],"labels":false,"domain":false,"title":null}},
    "detail":{"field":"s"}
   }}
 ],
 "resolve":{"axis":{"x":"independent","y":"independent"}}
}
]
}
